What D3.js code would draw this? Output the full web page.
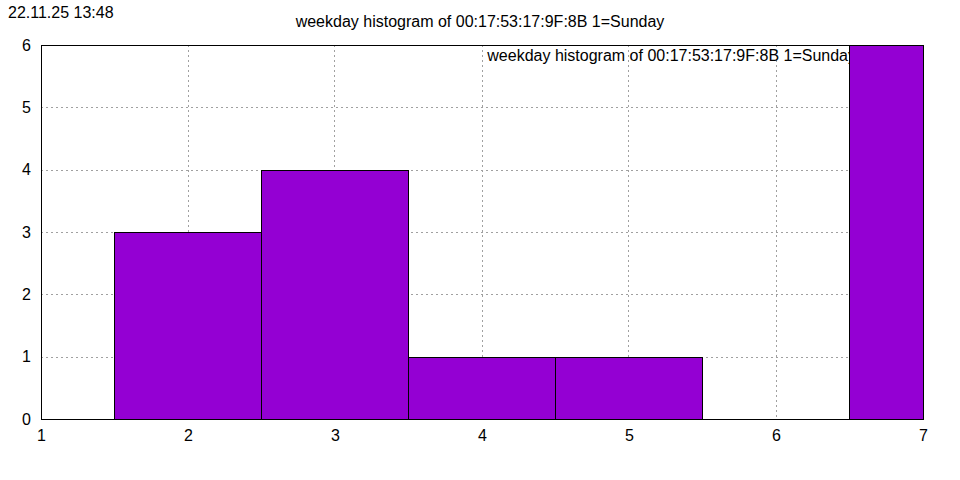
<!DOCTYPE html>
<html><head><meta charset="utf-8">
<script src="https://cdn.jsdelivr.net/npm/d3@7"></script>
<style>body{margin:0;background:#fff}svg text{font-family:"Liberation Sans",Arial,sans-serif;}</style>
</head><body>
<svg id="c" width="960" height="480"></svg>
<script>
const weekdays = [1, 2, 3, 4, 5, 6, 7];
const counts = [0, 3, 4, 1, 1, 0, 6];
const xTicks = [1, 2, 3, 4, 5, 6, 7];
const yTicks = [0, 1, 2, 3, 4, 5, 6];
const titleText = "weekday histogram of 00:17:53:17:9F:8B 1=Sunday";
const stamp = "22.11.25 13:48";

const svg = d3.select("#c");
const m = {l: 41, r: 923, t: 45, b: 419};
const x = d3.scaleLinear().domain([1, 7]).range([m.l, m.r]);
const y = d3.scaleLinear().domain([0, 6]).range([m.b, m.t]);
const FS = 16;

svg.append("rect").attr("width", 960).attr("height", 480).attr("fill", "#fff");

// grid
const g = svg.append("g");
g.selectAll(".gx").data(xTicks.slice(1, -1)).join("line")
  .attr("x1", d => Math.floor(x(d)) + 0.5).attr("x2", d => Math.floor(x(d)) + 0.5)
  .attr("y1", m.t).attr("y2", m.b)
  .attr("stroke", "#a0a0a0").attr("stroke-dasharray", "2,3").attr("stroke-width", 1);
g.selectAll(".gy").data(yTicks.slice(1, -1)).join("line")
  .attr("y1", d => Math.round(y(d)) + 0.5).attr("y2", d => Math.round(y(d)) + 0.5)
  .attr("x1", m.l).attr("x2", m.r)
  .attr("stroke", "#a0a0a0").attr("stroke-dasharray", "2,3").attr("stroke-width", 1);

// key text (drawn before bars so bars cover it)
svg.append("text").attr("x", 856).attr("y", 61).attr("text-anchor", "end")
  .attr("font-size", FS).attr("fill", "#000").text(titleText);

// bars
svg.append("clipPath").attr("id", "clip").append("rect")
  .attr("x", m.l).attr("y", m.t).attr("width", m.r - m.l + 1).attr("height", m.b - m.t);
svg.append("g").attr("clip-path", "url(#clip)")
  .selectAll("rect").data(weekdays.map((d, i) => ({d, v: counts[i]})).filter(o => o.v > 0)).join("rect")
  .attr("x", o => Math.floor(x(o.d - 0.5)) + 0.5)
  .attr("width", o => Math.floor(x(o.d + 0.5)) - Math.floor(x(o.d - 0.5)))
  .attr("y", o => Math.round(y(o.v)) + 0.5)
  .attr("height", o => Math.round(y(0)) - Math.round(y(o.v)))
  .attr("fill", "#9400d3").attr("stroke", "#000").attr("stroke-width", 1);

// border
svg.append("rect").attr("x", m.l + 0.5).attr("y", m.t + 0.5)
  .attr("width", m.r - m.l).attr("height", m.b - m.t)
  .attr("fill", "none").attr("stroke", "#000").attr("stroke-width", 1);

// axes labels
const xa = svg.append("g").attr("transform", `translate(0,${m.b})`)
  .call(d3.axisBottom(x).tickValues(xTicks).tickSize(0).tickPadding(11).tickFormat(d3.format("d")));
const ya = svg.append("g").attr("transform", `translate(${m.l},0)`)
  .call(d3.axisLeft(y).tickValues(yTicks).tickSize(0).tickPadding(10).tickFormat(d3.format("d")));
[xa, ya].forEach(a => {
  a.select(".domain").remove();
  a.selectAll("text").attr("font-size", FS).attr("fill", "#000").attr("font-family", "Liberation Sans, Arial, sans-serif");
});

svg.append("text").attr("x", 480).attr("y", 27).attr("text-anchor", "middle")
  .attr("font-size", FS).attr("fill", "#000").text(titleText);
svg.append("text").attr("x", 8).attr("y", 18)
  .attr("font-size", FS).attr("fill", "#000").text(stamp);
</script>
</body></html>
